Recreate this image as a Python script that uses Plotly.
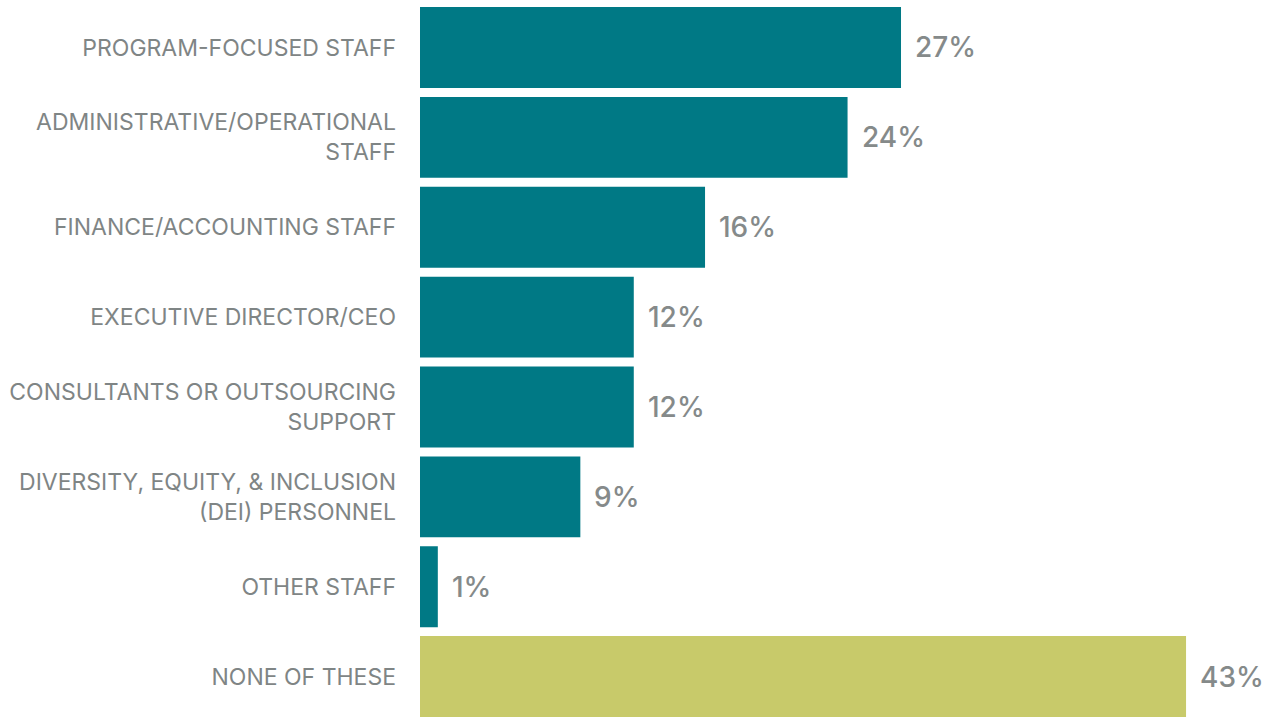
import plotly.graph_objects as go

categories = [
    "PROGRAM-FOCUSED STAFF",
    "ADMINISTRATIVE/OPERATIONAL<br>STAFF",
    "FINANCE/ACCOUNTING STAFF",
    "EXECUTIVE DIRECTOR/CEO",
    "CONSULTANTS OR OUTSOURCING<br>SUPPORT",
    "DIVERSITY, EQUITY, & INCLUSION<br>(DEI) PERSONNEL",
    "OTHER STAFF",
    "NONE OF THESE",
]
values = [27, 24, 16, 12, 12, 9, 1, 43]
colors = ["#007985"] * 7 + ["#c8ca6a"]

fig = go.Figure()
fig.add_trace(go.Bar(
    y=categories, x=values, orientation="h",
    marker=dict(color=colors, line=dict(width=0)),
    width=0.9, hoverinfo="skip",
))

for c, v in zip(categories, values):
    fig.add_annotation(
        x=v, y=c, text=f"{v}%", showarrow=False,
        xanchor="left", xshift=12,
        font=dict(family="Inter", size=28, color="#858a8a", weight=500),
    )

fig.update_layout(
    width=1268, height=717,
    margin=dict(l=420, r=0, t=2, b=0),
    plot_bgcolor="white", paper_bgcolor="white",
    showlegend=False,
    xaxis=dict(range=[0, 47.6], visible=False),
    yaxis=dict(
        range=[7.45, -0.506], showgrid=False, zeroline=False,
        ticks="", ticklabelstandoff=23,
        tickfont=dict(family="Inter", size=23, color="#7f8585"),
    ),
)

# drop the default page margin so the figure sits at the window corner
fig.write_html("out.html", config={"displayModeBar": False},
               post_script="document.body.style.margin='0';")
